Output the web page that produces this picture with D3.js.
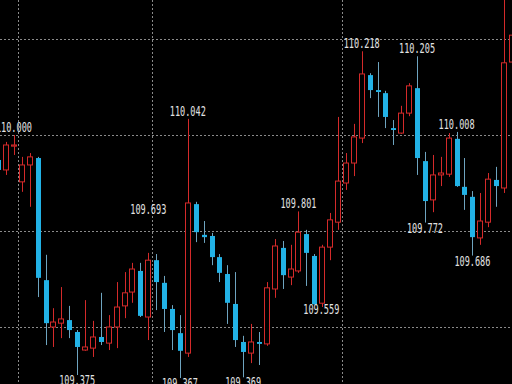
<!DOCTYPE html>
<html>
<head>
<meta charset="utf-8">
<script src="https://cdn.jsdelivr.net/npm/d3@7"></script>
<style>
  html, body { margin: 0; padding: 0; background: #000; }
  svg { display: block; }
</style>
</head>
<body>
<svg id="chart" width="512" height="384"></svg>
<script>
// Bar slots, left to right
const bars = d3.range(66);

const opens = [
  109.935, 109.909, 109.971, 109.878, 109.922, 109.940, 109.622, 109.500, 109.510, 109.518,
  109.487, 109.440, 109.445, 109.474, 109.458, 109.500, 109.555, 109.591, 109.646, 109.526,
  109.674, 109.615, 109.547, 109.484, 109.432, 109.820, 109.740, 109.737, 109.682, 109.638,
  109.560, 109.461, 109.432, 109.461, 109.456, 109.599, 109.706, 109.630, 109.646, 109.742,
  109.685, 109.562, 109.708, 109.773, 109.875, 109.927, 109.992, 110.156, 110.117, 110.109,
  110.018, 110.005, 110.057, 110.122, 109.932, 109.831, 109.896, 109.898, 109.990, 109.865,
  109.839, 109.732, 109.773, 109.883, 109.862, 110.190
];
const highs = [
  109.945, 109.982, 110.000, 109.943, 109.953, 109.943, 109.688, 109.549, 109.604, 109.555,
  109.492, 109.570, 109.516, 109.589, 109.531, 109.617, 109.643, 109.667, 109.667, 109.693,
  109.690, 109.633, 109.557, 109.531, 110.042, 109.826, 109.776, 109.745, 109.690, 109.661,
  109.643, 109.477, 109.508, 109.487, 109.617, 109.729, 109.724, 109.714, 109.801, 109.753,
  109.690, 109.714, 109.797, 110.047, 109.953, 110.029, 110.218, 110.161, 110.190, 110.115,
  110.039, 110.076, 110.135, 110.205, 109.956, 109.948, 109.943, 110.005, 110.008, 109.940,
  109.854, 109.849, 109.901, 109.917, 110.357, 110.299
];
const lows = [
  109.898, 109.896, 109.948, 109.852, 109.813, 109.578, 109.453, 109.448, 109.471, 109.471,
  109.375, 109.438, 109.422, 109.453, 109.440, 109.445, 109.523, 109.563, 109.526, 109.466,
  109.544, 109.487, 109.440, 109.367, 109.422, 109.721, 109.719, 109.661, 109.617, 109.508,
  109.448, 109.369, 109.406, 109.401, 109.451, 109.576, 109.599, 109.609, 109.641, 109.607,
  109.559, 109.552, 109.674, 109.753, 109.857, 109.893, 109.979, 110.096, 110.047, 110.018,
  109.974, 110.003, 110.049, 109.896, 109.772, 109.799, 109.867, 109.891, 109.865, 109.805,
  109.686, 109.714, 109.760, 109.813, 109.849, 110.143
];
const closes = [
  109.909, 109.974, 109.974, 109.922, 109.943, 109.628, 109.510, 109.513, 109.521, 109.492,
  109.448, 109.448, 109.474, 109.461, 109.500, 109.552, 109.589, 109.651, 109.529, 109.674,
  109.617, 109.547, 109.492, 109.438, 109.823, 109.747, 109.734, 109.682, 109.641, 109.563,
  109.466, 109.435, 109.461, 109.456, 109.602, 109.711, 109.635, 109.651, 109.747, 109.693,
  109.559, 109.708, 109.779, 109.880, 109.927, 109.995, 110.159, 110.117, 110.112, 110.047,
  110.013, 110.057, 110.128, 109.940, 109.828, 109.896, 109.901, 109.992, 109.867, 109.844,
  109.734, 109.776, 109.885, 109.867, 110.188, 110.260
];

// Horizontal grid levels and session breaks (bar where a new session starts)
const priceGrid = [109.50, 109.75, 110.00, 110.25];
const sessionStarts = [3, 20, 44];

// Swing points annotated with their price
const markBars  = [2, 10, 19, 23, 24, 31, 38, 40, 46, 53, 54, 58, 60];
const markKinds = ["high", "low", "high", "low", "high", "low", "high", "low", "high", "high", "low", "high", "low"];

const W = 512, H = 384;
const svg = d3.select("#chart");
svg.append("rect").attr("width", W).attr("height", H).attr("fill", "#000");

const x = d3.scaleBand().domain(bars).range([-5.85, 515.85]).padding(0);
const y = d3.scaleLinear().domain([109.5, 110.25]).range([327, 39]);
const cx = i => x(i) + x.bandwidth() / 2;

const UP = "#d42a2a", DOWN = "#22b2e6", DOWN_WICK = "#6ea4bf";

// grid
const grid = svg.append("g").attr("stroke", "#8a8a8a").attr("stroke-width", 1)
  .attr("stroke-dasharray", "2,2");
grid.selectAll("line.h").data(priceGrid).join("line").attr("class", "h")
  .attr("x1", 0).attr("x2", W)
  .attr("y1", d => Math.round(y(d)) + 0.5).attr("y2", d => Math.round(y(d)) + 0.5);
grid.selectAll("line.v").data(sessionStarts).join("line").attr("class", "v")
  .attr("y1", 0).attr("y2", H)
  .attr("x1", d => Math.round(x(d)) + 0.5).attr("x2", d => Math.round(x(d)) + 0.5);

// candles
const candles = bars.map(i => ({
  i, o: opens[i], h: highs[i], l: lows[i], c: closes[i], up: closes[i] >= opens[i]
}));

const g = svg.append("g");
const bodyW = 6;

g.selectAll("line.wick").data(candles).join("line").attr("class", "wick")
  .attr("x1", d => Math.round(cx(d.i)) + 0.5).attr("x2", d => Math.round(cx(d.i)) + 0.5)
  .attr("y1", d => y(d.h)).attr("y2", d => y(d.l))
  .attr("stroke", d => d.up ? UP : DOWN_WICK).attr("stroke-width", 1);

g.selectAll("rect.body").data(candles).join("rect").attr("class", "body")
  .attr("x", d => d.up ? Math.round(cx(d.i)) - 2.5 : Math.round(cx(d.i)) - 2)
  .attr("width", d => d.up ? bodyW - 1 : bodyW - 1)
  .attr("y", d => y(Math.max(d.o, d.c)))
  .attr("height", d => Math.max(1, Math.abs(y(d.o) - y(d.c))))
  .attr("fill", d => d.up ? "#000" : DOWN)
  .attr("stroke", d => d.up ? UP : "none")
  .attr("stroke-width", 1);

// price annotations
const fmt = d3.format(".3f");
const nudge = { 19: [0, -36], 40: [7, 0] };
const marks = markBars.map((b, k) => {
  const v = markKinds[k] === "high" ? highs[b] : lows[b];
  const [dx, dy] = nudge[b] || [0, 0];
  return {
    text: fmt(v),
    x: cx(b) + dx,
    y: (markKinds[k] === "high" ? y(v) - 3 : y(v) + 10) + dy
  };
});

svg.append("g").selectAll("text").data(marks).join("text")
  .attr("x", d => d.x).attr("y", d => d.y)
  .attr("text-anchor", "middle")
  .attr("font-family", "DejaVu Sans Mono, monospace")
  .attr("font-size", 14)
  .attr("textLength", 36).attr("lengthAdjust", "spacingAndGlyphs")
  .attr("fill", "#e2e2e2")
  .text(d => d.text);
</script>
</body>
</html>
